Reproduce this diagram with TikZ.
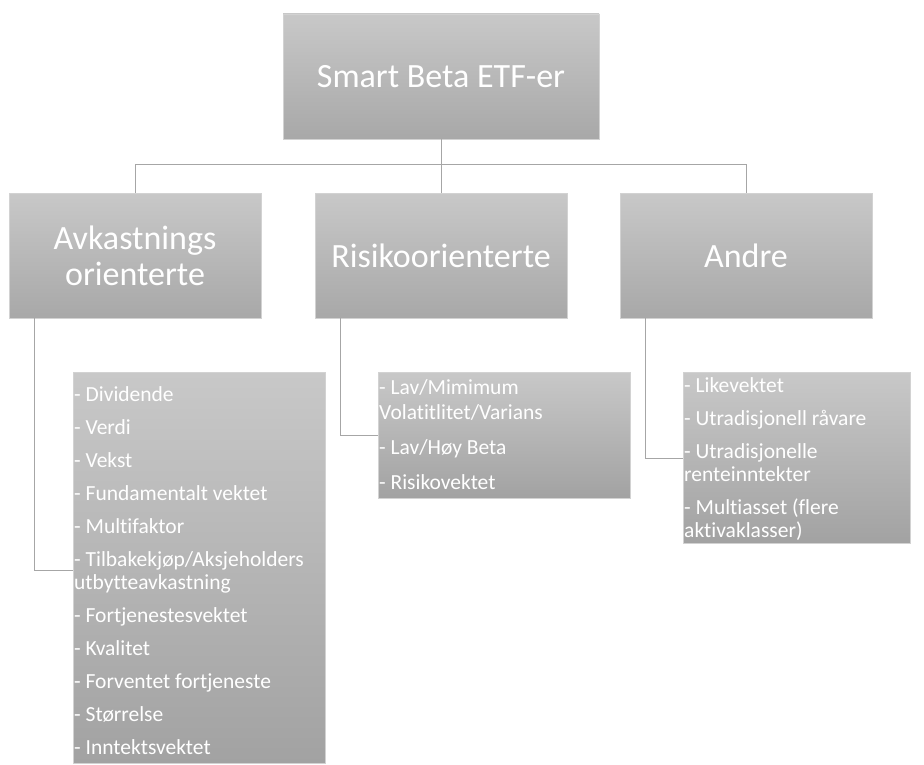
\documentclass[tikz,border=0pt]{standalone}
\usepackage{fontspec}
\setmainfont[Ligatures=NoCommon]{Carlito}
\definecolor{boxtop}{HTML}{C8C8C8}
\definecolor{boxbot}{HTML}{A8A8A8}
\definecolor{listbot}{HTML}{A2A2A2}
\definecolor{edge}{HTML}{D2D2D2}
\definecolor{conn}{HTML}{A6A6A6}
\begin{document}
\begin{tikzpicture}[x=1pt,y=-1pt,
  catbox/.style={rectangle, draw=edge, line width=0.6pt, top color=boxtop, bottom color=boxbot,
    minimum width=252pt, minimum height=125pt, inner sep=0pt, text=white, align=center,
    font=\fontsize{34}{36}\selectfont},
  listbox/.style={rectangle, draw=edge, line width=0.6pt, top color=boxtop, bottom color=listbot,
    anchor=north west, inner sep=0pt},
  listtext/.style={anchor=north west, inner sep=0pt, text=white, align=left,
    font=\fontsize{21.5}{23}\selectfont},
  conline/.style={draw=conn, line width=1pt}]
\useasboundingbox (0,0) rectangle (924,765);
% top
\node[catbox, minimum width=316pt] (top) at (441,76.5) {Smart Beta ETF-er};
\node[catbox] (av) at (135,255.5) {Avkastnings\\orienterte};
\node[catbox] (ri) at (441,255.5) {Risikoorienterte};
\node[catbox] (an) at (746,255.5) {Andre};
% list boxes
\node[listbox, minimum width=252pt, minimum height=391pt] (l1) at (73,372) {};
\node[listbox, minimum width=252pt, minimum height=126pt] (l2) at (378,372) {};
\node[listbox, minimum width=227pt, minimum height=171pt] (l3) at (683,372) {};
% list texts
\node[listtext] (t1) at ([xshift=1pt,yshift=-14pt]l1.north west) {%
- Dividende\\[10pt]
- Verdi\\[10pt]
- Vekst\\[10pt]
- Fundamentalt vektet\\[10pt]
- Multifaktor\\[10pt]
- Tilbakekjøp/Aksjeholders\\
utbytteavkastning\\[10pt]
- Fortjenestesvektet\\[10pt]
- Kvalitet\\[10pt]
- Forventet fortjeneste\\[10pt]
- Størrelse\\[10pt]
- Inntektsvektet};
\node[listtext] (t2) at ([xshift=1pt,yshift=-7pt]l2.north west) {%
- Lav/Mimimum\\[2pt]
Volatitlitet/Varians\\[12pt]
- Lav/Høy Beta\\[12pt]
- Risikovektet};
\node[listtext] (t3) at ([xshift=1pt,yshift=-5pt]l3.north west) {%
- Likevektet\\[10pt]
- Utradisjonell råvare\\[10pt]
- Utradisjonelle\\
renteinntekter\\[10pt]
- Multiasset (flere\\
aktivaklasser)};
% connectors
\draw[conline] (top.south) -- (ri.north);
\draw[conline] (av.north) -- ++(0,-28) -| (an.north);
\draw[conline] ([xshift=26pt]av.south west) |- ([yshift=-198pt]l1.north west);
\draw[conline] ([xshift=26pt]ri.south west) |- ([yshift=-63pt]l2.north west);
\draw[conline] ([xshift=26pt]an.south west) |- ([yshift=-86pt]l3.north west);
\end{tikzpicture}
\end{document}
